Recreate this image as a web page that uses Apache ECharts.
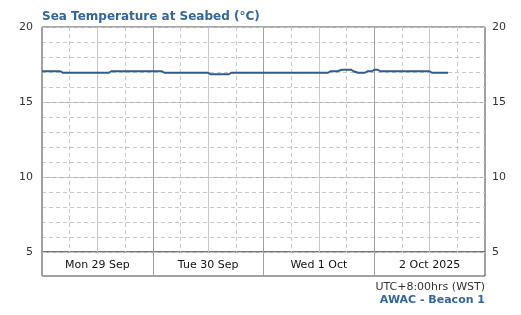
<!DOCTYPE html>
<html><head><meta charset="utf-8">
<script src="https://cdn.jsdelivr.net/npm/echarts@6/dist/echarts.min.js"></script>
<style>html,body{margin:0;padding:0;background:#fff}#c{width:521px;height:315px}</style>
</head><body><div id="c"></div>
<script>
// Hours since Mon 29 Sep 2025 00:00 (WST)
const hours = [0, 4, 4.5, 14.5, 15, 26, 26.5, 36, 36.5, 40.5, 41, 62, 62.5, 64, 65, 67, 67.5, 68.5, 70, 70.5, 71.5, 72, 72.8, 73.3, 84, 84.5, 88];
const temps = [17.05, 17.05, 16.95, 16.95, 17.05, 17.05, 16.95, 16.95, 16.85, 16.85, 16.95, 16.95, 17.05, 17.05, 17.15, 17.15, 17.05, 16.95, 16.95, 17.05, 17.05, 17.15, 17.15, 17.05, 17.05, 16.95, 16.95];
const dayLabels = ['Mon 29 Sep', 'Tue 30 Sep', 'Wed 1 Oct', '2 Oct 2025'];
const yTicks = [5, 10, 15, 20];

const FONT = 'DejaVu Sans';
const chart = echarts.init(document.getElementById('c'), null, {renderer: 'canvas'});
const gridL = 42, gridR = 36;
chart.setOption({
  animation: false,
  title: [
    {text: 'Sea Temperature at Seabed (°C)', left: 37, top: 6,
     textStyle: {fontFamily: FONT, fontSize: 12, fontWeight: 'bold', color: '#336699'}},
    {text: 'UTC+8:00hrs (WST)', right: gridR - 5, top: 277,
     textStyle: {fontFamily: FONT, fontSize: 11, fontWeight: 'normal', color: '#333'}},
    {text: 'AWAC - Beacon 1', right: gridR - 5, top: 290,
     textStyle: {fontFamily: FONT, fontSize: 11, fontWeight: 'bold', color: '#336699'}}
  ],
  grid: [
    {left: gridL, right: gridR, top: 27, height: 225, show: true, borderColor: '#444', borderWidth: 1, backgroundColor: 'transparent'},
    {left: gridL, right: gridR, top: 252, height: 24, show: true, borderColor: '#444', borderWidth: 1, backgroundColor: 'transparent'}
  ],
  xAxis: [
    {gridIndex: 0, type: 'value', min: 0, max: 96, interval: 6, axisLine: {show: false}, axisTick: {show: false}, axisLabel: {show: false},
     splitLine: {show: true, lineStyle: {color: '#c8c8c8', type: [4, 3], width: 1}}},
    {gridIndex: 0, type: 'value', min: 0, max: 96, interval: 12, axisLine: {show: false}, axisTick: {show: false}, axisLabel: {show: false},
     splitLine: {show: true, lineStyle: {color: '#c8c8c8', width: 1}}},
    {gridIndex: 0, type: 'value', min: 0, max: 96, interval: 24, axisLine: {show: false}, axisTick: {show: false}, axisLabel: {show: false},
     splitLine: {show: true, lineStyle: {color: '#a0a0a0', width: 1}}},
    {gridIndex: 1, type: 'category', data: dayLabels, boundaryGap: true, position: 'bottom',
     axisLine: {show: false}, axisTick: {show: false},
     axisLabel: {inside: true, margin: 5, fontFamily: FONT, fontSize: 11, color: '#111', interval: 0},
     splitLine: {show: true, interval: 0, lineStyle: {color: '#a0a0a0', width: 1}}}
  ],
  yAxis: [
    {gridIndex: 0, type: 'value', min: 5, max: 20, interval: 5, position: 'left', axisLine: {show: false}, axisTick: {show: false},
     axisLabel: {margin: 9, fontFamily: FONT, fontSize: 11, color: '#333'},
     splitLine: {show: true, lineStyle: {color: '#b0b0b0', width: 1}}},
    {gridIndex: 0, type: 'value', min: 5, max: 20, interval: 5, position: 'right', axisLine: {show: false}, axisTick: {show: false},
     axisLabel: {margin: 7, fontFamily: FONT, fontSize: 11, color: '#333'}, splitLine: {show: false}},
    {gridIndex: 0, type: 'value', min: 5, max: 20, interval: 1, axisLine: {show: false}, axisTick: {show: false}, axisLabel: {show: false},
     splitLine: {show: true, lineStyle: {color: '#c8c8c8', type: [4, 3], width: 1}}},
    {gridIndex: 1, type: 'value', show: false}
  ],
  series: [
    {type: 'line', xAxisIndex: 0, yAxisIndex: 0, data: hours.map((h, i) => [h, temps[i]]),
     showSymbol: false, symbol: 'none', lineStyle: {color: '#2e5e8c', width: 2}, z: 5}
  ]
});
</script></body></html>
